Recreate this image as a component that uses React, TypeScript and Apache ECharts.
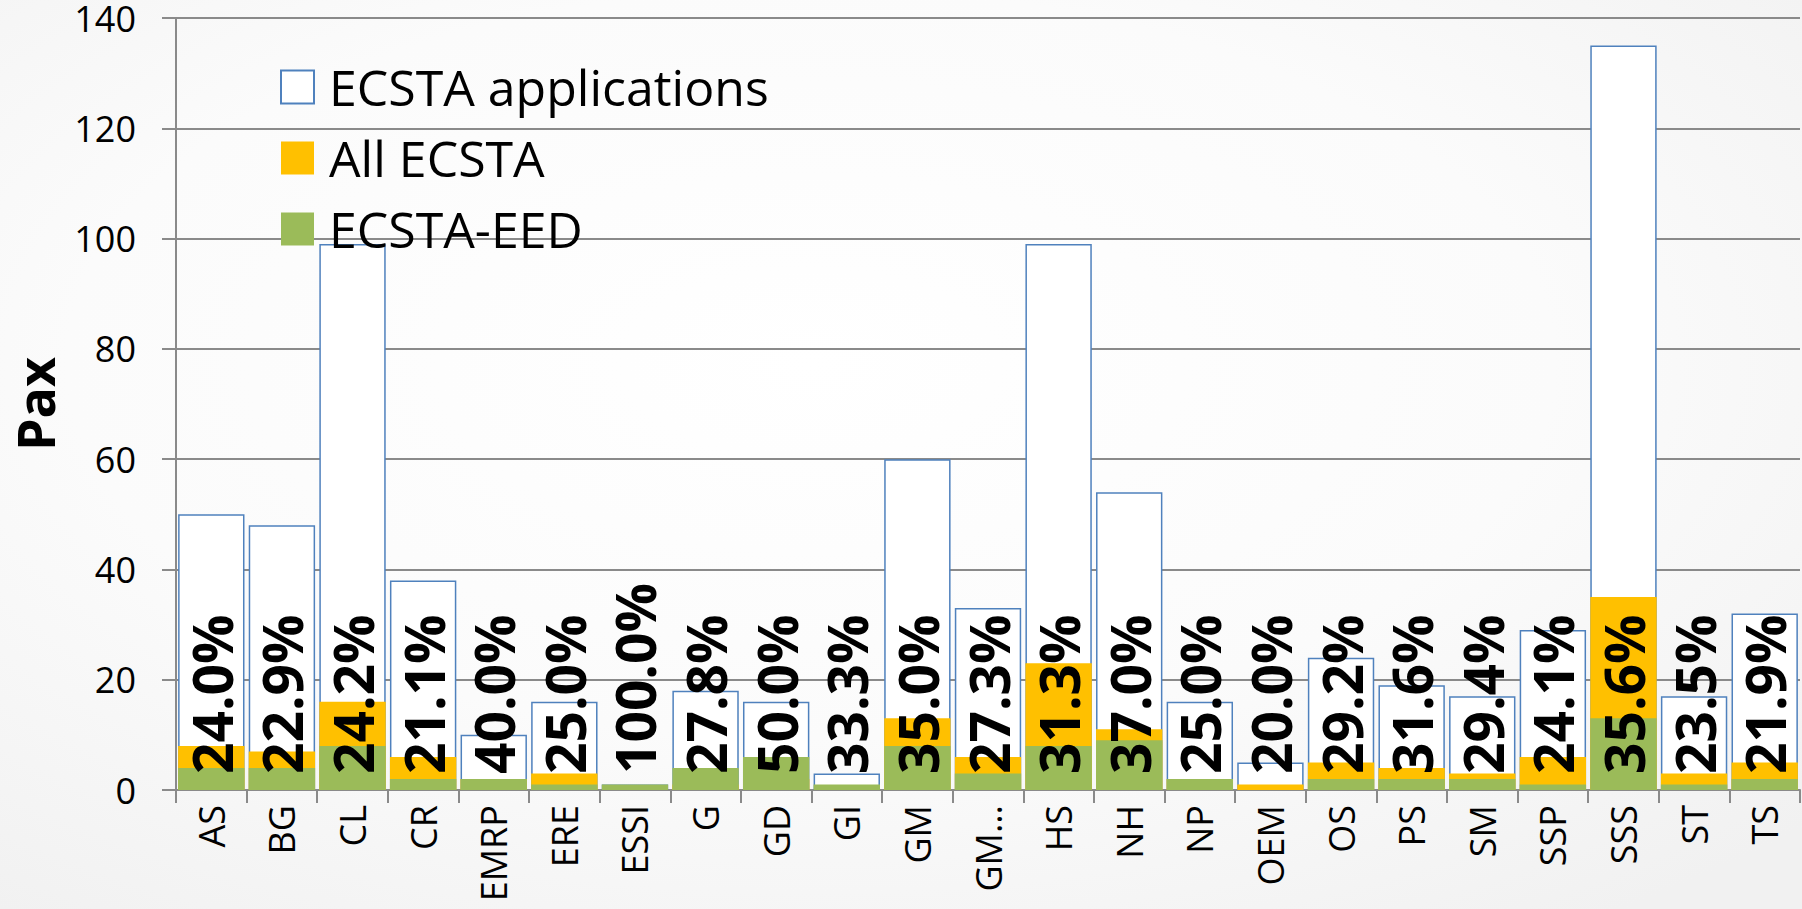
import React, { useEffect, useRef } from "react";
import * as echarts from "echarts";

const categories = ["AS", "BG", "CL", "CR", "EMRP", "ERE", "ESSI", "G", "GD", "GI", "GM", "GM…", "HS", "NH", "NP", "OEM", "OS", "PS", "SM", "SSP", "SSS", "ST", "TS"];
const applications = [50, 48, 99, 38, 10, 16, 1, 18, 16, 3, 60, 33, 99, 54, 16, 5, 24, 19, 17, 29, 135, 17, 32];
const allEcsta = [8, 7, 16, 6, 2, 3, 0, 1, 2, 0, 13, 6, 23, 11, 2, 1, 5, 4, 3, 6, 35, 3, 5];
const ecstaEed = [4, 4, 8, 2, 2, 1, 1, 4, 6, 1, 8, 3, 8, 9, 2, 0, 2, 2, 2, 1, 13, 1, 2];
const percentLabels = [24.0, 22.9, 24.2, 21.1, 40.0, 25.0, 100.0, 27.8, 50.0, 33.3, 35.0, 27.3, 31.3, 37.0, 25.0, 20.0, 29.2, 31.6, 29.4, 24.1, 35.6, 23.5, 21.9];
const yMin = 0;
const yMax = 140;
const yInterval = 20;

const FONT = "'Open Sans', 'Noto Sans', sans-serif";
const GRID_GRAY = "#8a8a8a";

export default function App() {
  const ref = useRef<HTMLDivElement>(null);
  useEffect(() => {
    document.body.style.margin = "0";
    const chart = echarts.init(ref.current!, null, { renderer: "svg" });
    chart.setOption({
      animation: false,
      backgroundColor: "#f5f5f5",
      textStyle: { fontFamily: FONT, color: "#000" },
      graphic: [
        {
          type: "rect",
          z: -10,
          silent: true,
          shape: { x: 0, y: 0, width: 1802, height: 909 },
          style: {
            fill: new echarts.graphic.RadialGradient(0.45, 0.4, 0.75, [
              { offset: 0, color: "#ffffff" },
              { offset: 0.55, color: "#fbfbfb" },
              { offset: 1, color: "#f1f1f1" },
            ]),
          },
        },
      ],
      grid: { left: 162, right: 2, top: 9, bottom: 119, containLabel: false },
      legend: {
        orient: "vertical",
        left: 275,
        top: 57,
        itemWidth: 33,
        itemHeight: 33,
        itemGap: 21,
        icon: "rect",
        textStyle: { fontSize: 50, fontFamily: FONT, color: "#000", padding: [0, 0, 0, 10] },
        data: ["ECSTA applications", "All ECSTA", "ECSTA-EED"],
      },
      xAxis: {
        type: "category",
        data: categories,
        axisLine: { show: true, lineStyle: { color: GRID_GRAY, width: 2 } },
        axisTick: { show: true, length: 13, lineStyle: { color: GRID_GRAY, width: 2 } },
        axisLabel: { rotate: 90, fontSize: 36, color: "#000", margin: 15, fontFamily: FONT, interval: 0 },
      },
      yAxis: {
        type: "value",
        min: yMin,
        max: yMax,
        interval: yInterval,
        name: "Pax",
        nameLocation: "middle",
        nameGap: 116,
        nameTextStyle: { fontSize: 52, fontWeight: "bold", color: "#000", fontFamily: FONT },
        axisLine: { show: true, lineStyle: { color: GRID_GRAY, width: 2 } },
        axisTick: { show: true, length: 14, lineStyle: { color: GRID_GRAY, width: 2 } },
        axisLabel: { fontSize: 36, color: "#000", margin: 40, fontFamily: FONT },
        splitLine: { show: true, lineStyle: { color: GRID_GRAY, width: 2 } },
      },
      series: [
        {
          name: "ECSTA applications",
          type: "bar",
          data: applications,
          barWidth: "94%",
          barGap: "-100%",
          itemStyle: { color: "#ffffff", borderColor: "#4F81BD", borderWidth: 1.5 },
        },
        {
          name: "All ECSTA",
          type: "bar",
          data: allEcsta,
          barWidth: "94%",
          barGap: "-100%",
          itemStyle: { color: "#FFC000" },
        },
        {
          name: "ECSTA-EED",
          type: "bar",
          data: ecstaEed,
          barWidth: "94%",
          barGap: "-100%",
          itemStyle: { color: "#9BBB59" },
          label: {
            show: true,
            position: "insideBottom",
            distance: 16,
            rotate: 90,
            align: "left",
            verticalAlign: "middle",
            fontSize: 55,
            fontWeight: "bold",
            color: "#000",
            fontFamily: FONT,
            formatter: (p: any) => `${percentLabels[p.dataIndex].toFixed(1)}%`,
          },
        },
      ],
    });
    return () => chart.dispose();
  }, []);
  return <div ref={ref} style={{ width: 1802, height: 909 }} />;
}
